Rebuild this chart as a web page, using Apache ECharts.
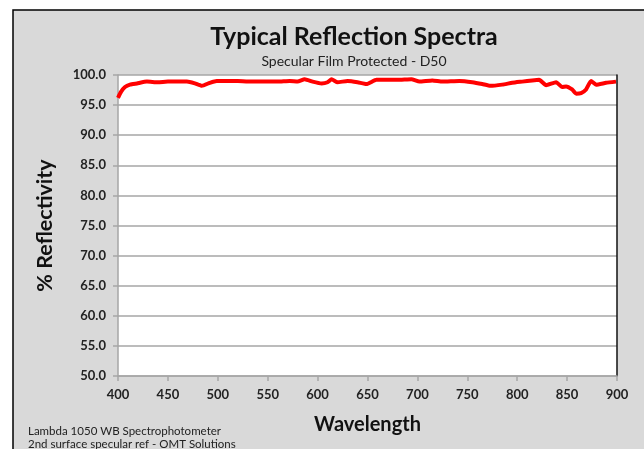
<!DOCTYPE html>
<html>
<head>
    <meta charset="utf-8">
    <title>Typical Reflection Spectra</title>
    <script src="https://cdn.jsdelivr.net/npm/echarts@6/dist/echarts.min.js"></script>
    <style>
        html, body { margin: 0; padding: 0; background: #fff; }
    </style>
</head>
<body>
    <div id="main" style="width: 644px;height:449px;"></div>
    <script>
        // wavelength (nm) and reflectivity (%)
        var wavelengths = [400, 403, 407, 412, 419, 429, 440, 450, 460, 469, 477, 484, 492, 499, 510, 520, 530, 540, 550, 560, 572, 580, 587, 595, 604, 610, 614, 620, 630, 640, 649, 659, 670, 680, 694, 702, 715, 725, 742, 755, 765, 773, 785, 795, 805, 815, 822, 829, 839, 845, 849, 855, 859, 864, 869, 874, 879, 889, 899];
        var reflectivity = [96.2, 97.2, 98.0, 98.4, 98.6, 98.9, 98.8, 98.9, 98.9, 98.9, 98.6, 98.2, 98.7, 99.0, 99.0, 99.0, 98.9, 98.9, 98.9, 98.9, 99.0, 98.9, 99.3, 98.9, 98.6, 98.8, 99.3, 98.8, 99.0, 98.8, 98.5, 99.2, 99.2, 99.2, 99.3, 98.9, 99.1, 98.9, 99.0, 98.8, 98.5, 98.2, 98.4, 98.7, 98.9, 99.1, 99.2, 98.3, 98.8, 98.0, 98.1, 97.6, 96.9, 97.0, 97.6, 99.0, 98.4, 98.7, 98.9];
        var xTicks = [400, 450, 500, 550, 600, 650, 700, 750, 800, 850, 900];
        var yMin = 50, yMax = 100, yStep = 5;

        var chartDom = document.getElementById('main');
        var myChart = echarts.init(chartDom);
        var font = 'Lato, "Open Sans", sans-serif';

        var seriesData = wavelengths.map(function (w, i) {
            return [w, reflectivity[i]];
        });

        var option = {
            animation: false,
            backgroundColor: '#fff',
            graphic: [
                {
                    type: 'rect',
                    z: -10,
                    shape: { x: 13, y: 10, width: 660, height: 480 },
                    style: { fill: '#d9d9d9', stroke: '#000', lineWidth: 1.5 }
                },
                {
                    type: 'text',
                    left: 28,
                    top: 425,
                    style: {
                        text: 'Lambda 1050 WB Spectrophotometer\n2nd surface specular ref - OMT Solutions',
                        font: '11.5px ' + font,
                        fill: '#222',
                        lineHeight: 13
                    }
                }
            ],
            title: {
                text: 'Typical Reflection Spectra',
                subtext: 'Specular Film Protected - D50',
                left: 349,
                textAlign: 'center',
                top: 19,
                itemGap: 5,
                textStyle: { fontFamily: font, fontWeight: 'bold', fontSize: 25, color: '#111' },
                subtextStyle: { fontFamily: font, fontSize: 14, color: '#222' }
            },
            grid: {
                left: 118,
                top: 75,
                width: 499,
                height: 301,
                show: true,
                backgroundColor: '#fff',
                borderWidth: 0
            },
            xAxis: {
                type: 'value',
                min: 400,
                max: 900,
                interval: 50,
                name: 'Wavelength',
                nameLocation: 'middle',
                nameGap: 39,
                nameTextStyle: { fontFamily: font, fontWeight: 'bold', fontSize: 20, color: '#111' },
                axisLine: { lineStyle: { color: '#a6a6a6', width: 1.5 } },
                axisTick: { show: true, length: 5, lineStyle: { color: '#a6a6a6', width: 1.5 } },
                axisLabel: {
                    margin: 12,
                    fontFamily: font, fontWeight: 'bold', fontSize: 13, color: '#222',
                    customValues: xTicks
                },
                splitLine: { show: false }
            },
            yAxis: [
                {
                    type: 'value',
                    min: yMin,
                    max: yMax,
                    interval: yStep,
                    name: '% Reflectivity',
                    nameLocation: 'middle',
                    nameGap: 62,
                    nameTextStyle: { fontFamily: font, fontWeight: 'bold', fontSize: 21.5, color: '#111' },
                    axisLine: { show: true, lineStyle: { color: '#a6a6a6', width: 1.5 } },
                    axisTick: { show: true, length: 5, lineStyle: { color: '#a6a6a6', width: 1.5 } },
                    axisLabel: {
                        margin: 12,
                        fontFamily: font, fontWeight: 'bold', fontSize: 13, color: '#222',
                        formatter: function (v) { return v.toFixed(1); }
                    },
                    splitLine: { lineStyle: { color: '#a6a6a6', width: 1.5 } }
                },
                {
                    type: 'value',
                    min: yMin,
                    max: yMax,
                    interval: yStep,
                    position: 'right',
                    axisLine: { show: true, lineStyle: { color: '#111', width: 1.5 } },
                    axisTick: { show: false },
                    axisLabel: { show: false },
                    splitLine: { show: false }
                }
            ],
            series: [
                {
                    type: 'line',
                    data: seriesData,
                    showSymbol: false,
                    smooth: 0.15,
                    lineStyle: { color: '#ff0000', width: 4 },
                    itemStyle: { color: '#ff0000' }
                }
            ]
        };

        myChart.setOption(option);
    </script>
</body>
</html>
